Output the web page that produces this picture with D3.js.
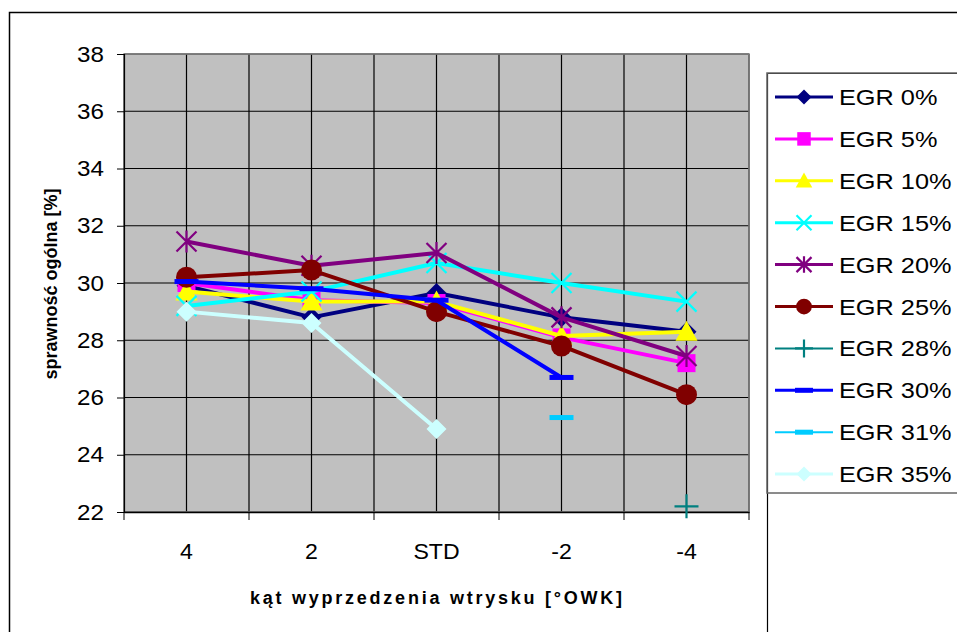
<!DOCTYPE html>
<html><head><meta charset="utf-8">
<script src="https://cdn.jsdelivr.net/npm/d3@7"></script>
<style>body{margin:0;background:#fff}svg{display:block;font-family:"Liberation Sans",Arial,sans-serif}</style>
</head><body><svg id="c" width="957" height="632"></svg>
<script>
const categories = ["4", "2", "STD", "-2", "-4"];
const yTicks = [22, 24, 26, 28, 30, 32, 34, 36, 38];
const seriesNames = ["EGR 0%", "EGR 5%", "EGR 10%", "EGR 15%", "EGR 20%", "EGR 25%", "EGR 28%", "EGR 30%", "EGR 31%", "EGR 35%"];
const egr0  = [29.9, 28.8, 29.65, 28.8, 28.3];
const egr5  = [30.0, 29.4, 29.3, 28.1, 27.2];
const egr10 = [29.7, 29.35, 29.35, 28.15, 28.3];
const egr15 = [29.2, 29.7, 30.7, 30.0, 29.35];
const egr20 = [31.45, 30.6, 31.05, 28.8, 27.45];
const egr25 = [30.2, 30.45, 29.0, 27.8, 26.1];
const egr28 = [null, null, null, null, 22.2];
const egr30 = [30.05, 29.8, 29.4, 26.7, null];
const egr31 = [null, null, null, 25.3, null];
const egr35 = [29.0, 28.6, 24.9, null, null];
const seriesValues = [egr0, egr5, egr10, egr15, egr20, egr25, egr28, egr30, egr31, egr35];
const colors = ["#000080", "#FF00FF", "#FFFF00", "#00FFFF", "#800080", "#800000", "#008080", "#0000FF", "#00CCFF", "#CCFFFF"];
const markers = ["diamond", "square", "triangle", "x", "star", "circle", "plus", "dash", "dash", "diamond"];
const lineW = [4, 4, 4, 4, 4, 4, 2, 4, 3, 4];

const svg = d3.select("#c");
const L = 124, R = 749, T = 54, B = 512;
const x = d3.scaleBand().domain(categories).range([L, R]);
const y = d3.scaleLinear().domain([22, 38]).range([B, T]);

function stretch(sel, k) {
  sel.each(function () {
    const w = this.getComputedTextLength();
    d3.select(this).attr("textLength", w * k).attr("lengthAdjust", "spacingAndGlyphs");
  });
}

// outer chart border
svg.append("path").attr("d", `M9.5,640 V12.5 H960`).attr("fill", "none").attr("stroke", "#000").attr("stroke-width", 1.5);

// plot area
svg.append("rect").attr("x", L).attr("y", T).attr("width", R - L).attr("height", B - T).attr("fill", "#C0C0C0");
const g = svg.append("g");
const vx = [];
categories.forEach(c => { vx.push(x(c)); vx.push(x(c) + x.bandwidth() / 2); });
vx.push(R);
g.selectAll(".vg").data(vx).join("line").attr("x1", d => d).attr("x2", d => d).attr("y1", T).attr("y2", B).attr("stroke", "#000").attr("stroke-width", 1.2);
g.selectAll(".hg").data(yTicks).join("line").attr("x1", L).attr("x2", R).attr("y1", d => y(d)).attr("y2", d => y(d)).attr("stroke", "#000").attr("stroke-width", 1.2);
svg.append("rect").attr("x", L).attr("y", T).attr("width", R - L).attr("height", B - T).attr("fill", "none").attr("stroke", "#808080").attr("stroke-width", 1.5);

// y axis
const ya = svg.append("g").attr("transform", `translate(${L},0)`).call(d3.axisLeft(y).tickValues(yTicks).tickSize(7).tickPadding(13).tickFormat(d3.format("d")));
ya.select(".domain").attr("stroke", "#000").attr("stroke-width", 1.2);
ya.selectAll("line").attr("stroke", "#000");
ya.selectAll("text").attr("font-size", 22).attr("fill", "#000").attr("font-family", "Liberation Sans, Arial, sans-serif").call(stretch, 1.1);

// x axis
const xa = svg.append("g").attr("transform", `translate(0,${B})`).call(d3.axisBottom(x).tickSize(0).tickPadding(31));
xa.select(".domain").attr("stroke", "#000").attr("stroke-width", 1.5);
xa.selectAll("text").attr("font-size", 22).attr("fill", "#000").attr("font-family", "Liberation Sans, Arial, sans-serif").call(stretch, 1.05);
const bnds = categories.map(c => x(c)).concat([R]);
svg.selectAll(".xt").data(bnds).join("line").attr("x1", d => d).attr("x2", d => d).attr("y1", B).attr("y2", B + 8).attr("stroke", "#000");

// axis titles
svg.append("text").attr("x", 436).attr("y", 604).attr("text-anchor", "middle").attr("font-size", 18).attr("font-weight", "bold")
  .attr("textLength", 372).attr("lengthAdjust", "spacing").text("kąt wyprzedzenia wtrysku [°OWK]");
svg.append("text").attr("transform", "translate(57,284) rotate(-90)").attr("text-anchor", "middle").attr("font-size", 18).attr("font-weight", "bold").text("sprawność ogólna [%]");

function drawMarker(sel, type, color, cx, cy, scale) {
  const s = scale || 1;
  if (type === "diamond") sel.append("path").attr("d", `M${cx},${cy-10*s} L${cx+10*s},${cy} L${cx},${cy+10*s} L${cx-10*s},${cy} Z`).attr("fill", color);
  else if (type === "square") sel.append("rect").attr("x", cx-9*s).attr("y", cy-9*s).attr("width", 18*s).attr("height", 18*s).attr("fill", color);
  else if (type === "triangle") sel.append("path").attr("d", `M${cx},${cy-11*s} L${cx+11*s},${cy+9*s} L${cx-11*s},${cy+9*s} Z`).attr("fill", color);
  else if (type === "circle") sel.append("circle").attr("cx", cx).attr("cy", cy).attr("r", 10.5*s).attr("fill", color);
  else if (type === "x") sel.append("path").attr("d", `M${cx-10*s},${cy-10*s} L${cx+10*s},${cy+10*s} M${cx-10*s},${cy+10*s} L${cx+10*s},${cy-10*s}`).attr("stroke", color).attr("stroke-width", 2.2);
  else if (type === "star") sel.append("path").attr("d", `M${cx-10*s},${cy-10*s} L${cx+10*s},${cy+10*s} M${cx-10*s},${cy+10*s} L${cx+10*s},${cy-10*s} M${cx},${cy-11*s} L${cx},${cy+11*s}`).attr("stroke", color).attr("stroke-width", 2.2);
  else if (type === "plus") sel.append("path").attr("d", `M${cx-12*s},${cy} L${cx+12*s},${cy} M${cx},${cy-12*s} L${cx},${cy+12*s}`).attr("stroke", color).attr("stroke-width", 2.2);
  else if (type === "dash") sel.append("rect").attr("x", cx-12*s).attr("y", cy-2.5).attr("width", 24*s).attr("height", 5).attr("fill", color);
}

// series
const cx = c => x(c) + x.bandwidth() / 2;
seriesValues.forEach((vals, i) => {
  const pts = vals.map((v, j) => ({c: categories[j], v})).filter(p => p.v !== null);
  const line = d3.line().x(p => cx(p.c)).y(p => y(p.v));
  const sg = svg.append("g");
  if (pts.length > 1) sg.append("path").attr("d", line(pts)).attr("fill", "none").attr("stroke", colors[i]).attr("stroke-width", lineW[i]).attr("stroke-linejoin", "round");
  pts.forEach(p => drawMarker(sg, markers[i], colors[i], cx(p.c), y(p.v), 1));
});

// legend
const lg = svg.append("g");
lg.append("path").attr("d", "M767.5,1000 V73.5 H1000").attr("fill", "none").attr("stroke", "#000").attr("stroke-width", 1.2);
lg.append("rect").attr("x", 767).attr("y", 73).attr("width", 300).attr("height", 420).attr("fill", "none").attr("stroke", "#666").attr("stroke-width", 1.5);
seriesNames.forEach((n, i) => {
  const ly = 97 + i * 41.9;
  lg.append("line").attr("x1", 775).attr("x2", 833).attr("y1", ly).attr("y2", ly).attr("stroke", colors[i]).attr("stroke-width", i === 6 || i === 8 ? 2 : 3);
  drawMarker(lg, markers[i], colors[i], 804, ly, 0.75);
  lg.append("text").attr("x", 839).attr("y", ly + 8).attr("font-size", 22).attr("fill", "#000").text(n).call(stretch, 1.15);
});
</script></body></html>
